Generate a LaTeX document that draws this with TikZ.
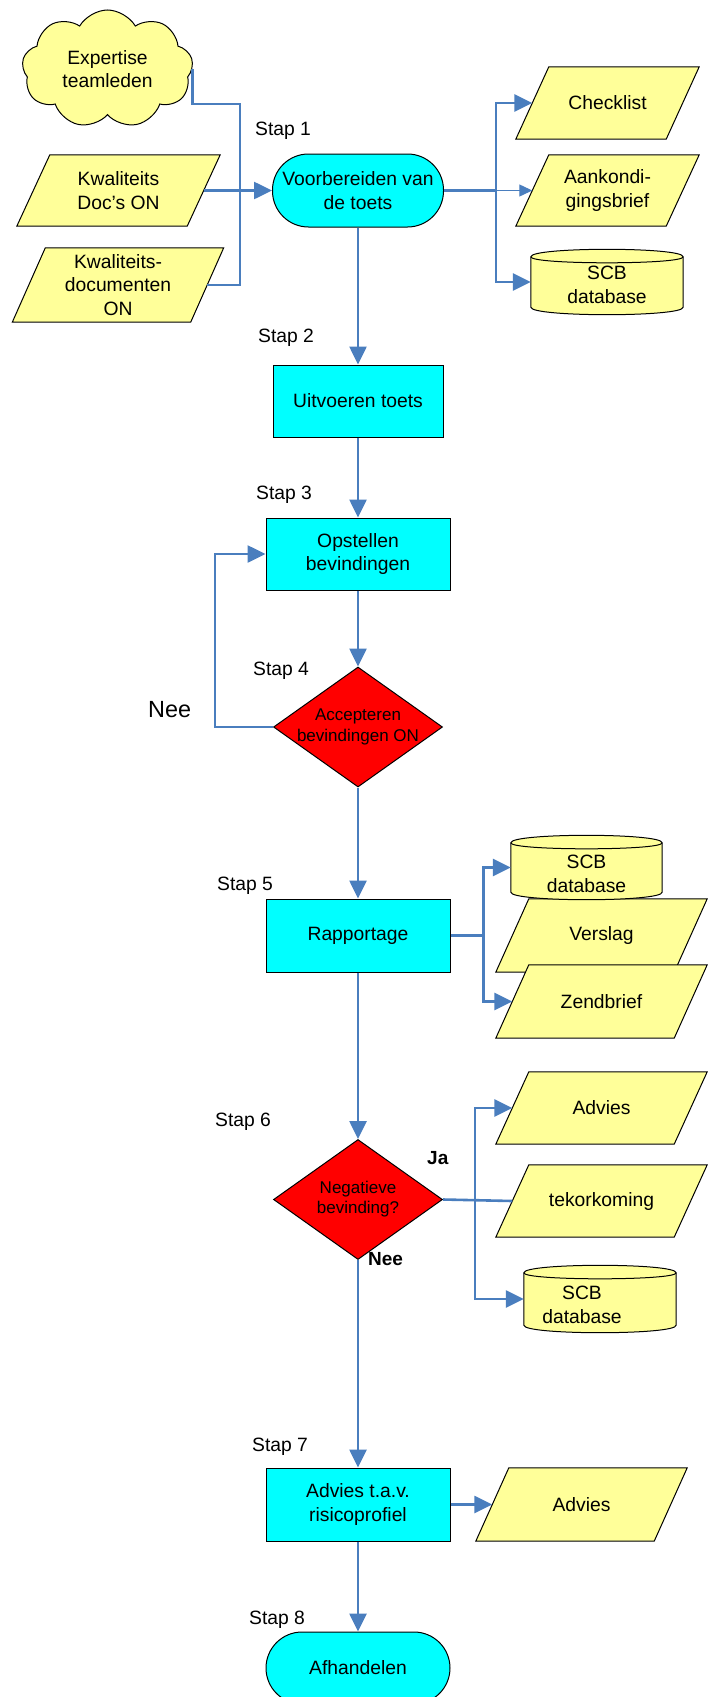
\documentclass[tikz,border=0pt]{standalone}
\usepackage{fontspec}
\setmainfont{Liberation Sans}
\usetikzlibrary{shapes.geometric,shapes.symbols,arrows.meta,calc}
\pgfdeclarelayer{background}
\pgfsetlayers{background,main}

\definecolor{flowblue}{RGB}{74,126,190}
\definecolor{notefill}{RGB}{255,255,153}
\definecolor{stepfill}{RGB}{0,255,255}
\definecolor{askfill}{RGB}{255,0,0}

% database cylinder drawn around an empty rectangle node
\newcommand\dbcylinder[1]{%
  \draw[outl,fill=notefill] (#1.north west) -- (#1.south west)
    .. controls ($(#1.south west)+(0,10)$) and ($(#1.south east)+(0,10)$) .. (#1.south east)
    -- (#1.north east)
    .. controls ($(#1.north east)+(0,-10)$) and ($(#1.north west)+(0,-10)$) .. cycle;
  \draw[outl] (#1.north west)
    .. controls ($(#1.north west)+(0,8)$) and ($(#1.north east)+(0,8)$) .. (#1.north east);}

% document parallelogram behind a text node; the node spans one edge length
\newcommand\docshape[1]{%
  \begin{pgfonlayer}{background}
  \draw[outl,fill=notefill] ($(#1.south west)+(-16.5,0)$) -- ($(#1.north west)+(16.5,0)$)
    -- ($(#1.north east)+(16.5,0)$) -- ($(#1.south east)+(-16.5,0)$) -- cycle;
  \end{pgfonlayer}}

\begin{document}
\begin{tikzpicture}[x=1pt,y=-1pt,
  font=\fontsize{19.3}{23.5}\selectfont,
  every node/.style={align=center},
  outl/.style={draw=black,line width=1pt},
  stepbox/.style={outl,fill=stepfill,rectangle,minimum width=184pt,minimum height=73pt,inner sep=0pt},
  termbox/.style={stepbox,rounded corners=36pt},
  docbox/.style={rectangle,inner sep=0pt},
  cloudbox/.style={outl,fill=notefill,cloud,cloud puffs=9,cloud puff arc=120,aspect=1.45,
    minimum width=171pt,minimum height=118pt,inner sep=0pt},
  diabox/.style={outl,fill=askfill,diamond,inner sep=0pt,minimum width=169pt,minimum height=120pt},
  dbbox/.style={rectangle,inner sep=0pt},
  asktext/.style={font=\fontsize{17}{20.5}\selectfont},
  steplabel/.style={anchor=base west,inner sep=0pt},
  link/.style={draw=flowblue,line width=2.6pt},
  flow/.style={link,-{Triangle[length=18pt,width=17pt]}},
  twoway/.style={link,{Triangle[length=18pt,width=17pt]}-{Triangle[length=18pt,width=17pt]}},
  thinflow/.style={draw=flowblue,line width=1.2pt,-{Triangle[length=13pt,width=12pt]}}
]
\useasboundingbox (0,0) rectangle (715,1697);

% ---- step 1: inputs, preparation and outputs
\node[cloudbox] (team) at (107.5,69) {Expertise\\teamleden};
\fill[notefill] (50,33) rectangle (65,39);
\node[docbox,minimum width=170pt,minimum height=71pt] (kdoc) at (118.5,190.5) {Kwaliteits\\Doc’s ON};
\docshape{kdoc}
\node[docbox,minimum width=178pt,minimum height=74pt] (kdocs) at (118,285) {Kwaliteits-\\documenten\\ON};
\docshape{kdocs}
\node[termbox,minimum width=171pt] (prep) at (358,190.5) {Voorbereiden van\\de toets};
\node[docbox,minimum width=150pt,minimum height=72pt] (check) at (607.5,103) {Checklist};
\docshape{check}
\node[docbox,minimum width=150pt,minimum height=71pt] (notice) at (607.5,190.5) {Aankondi-\\gingsbrief};
\docshape{notice}
\node[dbbox,minimum width=152pt,minimum height=50pt] (db1) at (607,282) {};
\dbcylinder{db1}
\node (db1t) at (607,285) {SCB\\database};

% ---- main column
\node[stepbox,minimum width=170pt,minimum height=72pt] (run) at (358,401) {Uitvoeren toets};
\node[stepbox,minimum height=72pt] (find) at (358,554) {Opstellen\\bevindingen};
\node[diabox] (acc) at (358,727) {};
\node[asktext] (acct) at (358,727) {Accepteren\\bevindingen ON};
\node[stepbox] (rep) at (358,935.5) {Rapportage};
\node[diabox] (neg) at (358,1199.5) {};
\node[asktext] (negt) at (358,1199) {Negatieve\\bevinding?};
\node[stepbox] (risk) at (358,1504.5) {Advies t.a.v.\\risicoprofiel};
\node[termbox,minimum height=72pt] (done) at (358,1668) {Afhandelen};

% ---- step 5 outputs
\node[docbox,minimum width=178pt,minimum height=73pt] (vers) at (601.5,935.5) {Verslag};
\docshape{vers}
\node[docbox,minimum width=178pt,minimum height=73pt] (send) at (601.5,1001.5) {Zendbrief};
\docshape{send}
\node[dbbox,minimum width=151pt,minimum height=49pt] (db2) at (586.5,867.5) {};
\dbcylinder{db2}
\node (db2t) at (586.5,874) {SCB\\database};

% ---- step 6 outputs
\node[docbox,minimum width=178pt,minimum height=72pt] (adv6) at (601.5,1108) {Advies};
\docshape{adv6}
\node[docbox,minimum width=178pt,minimum height=72pt] (short) at (601.5,1201) {tekorkoming};
\docshape{short}
\node[dbbox,minimum width=152pt,minimum height=52pt] (db3) at (600,1299) {};
\dbcylinder{db3}
\node (db3t) at (582,1305) {SCB\\database};

% ---- step 7 output
\node[docbox,minimum width=178pt,minimum height=73pt] (adv7) at (581.5,1504.5) {Advies};
\docshape{adv7}

% ---- step labels
\node[steplabel] (s1) at (255,135) {Stap 1};
\node[steplabel] (s2) at (258,342) {Stap 2};
\node[steplabel] (s3) at (256,499) {Stap 3};
\node[steplabel] (s4) at (253,675) {Stap 4};
\node[steplabel] (s5) at (217,890) {Stap 5};
\node[steplabel] (s6) at (215,1126) {Stap 6};
\node[steplabel] (s7) at (252,1451) {Stap 7};
\node[steplabel] (s8) at (249,1624) {Stap 8};
\node[steplabel,font=\fontsize{23.4}{28}\selectfont] (nee1) at (148,717) {Nee};
\node[steplabel,font=\fontsize{19}{23}\selectfont\bfseries] (ja) at (427,1164) {Ja};
\node[steplabel,font=\fontsize{19}{23}\selectfont\bfseries] (nee2) at (368,1265) {Nee};

% ---- connectors, step 1
\coordinate (cj) at (240,104);
\draw[link] (team.east) |- (cj) |- (kdocs.east);
\draw[flow] (kdoc.east) -- (prep.west);
\coordinate (br1) at ($(prep.east)+(52,0)$);
\draw[link] (prep.east) -- (br1);
\draw[twoway] (check.west) -| (br1) |- (db1.west);
\draw[thinflow] (br1) -- (notice.west);

% ---- main flow
\draw[flow] (prep.south) -- (run.north);
\draw[flow] (run.south) -- (find.north);
\draw[flow] (find.south) -- (acc.north);
\coordinate (lp) at (215,727);
\draw[flow] (acc.west) -- (lp) |- (find.west);
\draw[flow] (acc.south) -- (rep.north);

% ---- step 5 branch
\coordinate (br5) at ($(rep.east)+(33,0)$);
\draw[link] (rep.east) -- (br5);
\draw[twoway] (db2.west) -| (br5) |- (send.west);
\draw[flow] (rep.south) -- (neg.north);

% ---- step 6 branch
\draw[link] (neg.east) -- (short.west);
\coordinate (br6) at (475,1200);
\draw[twoway] (adv6.west) -| (br6) |- (db3.west);
\draw[flow] (neg.south) -- (risk.north);

% ---- step 7 and end
\draw[flow] (risk.east) -- (adv7.west);
\draw[flow] (risk.south) -- (done.north);
\end{tikzpicture}
\end{document}
